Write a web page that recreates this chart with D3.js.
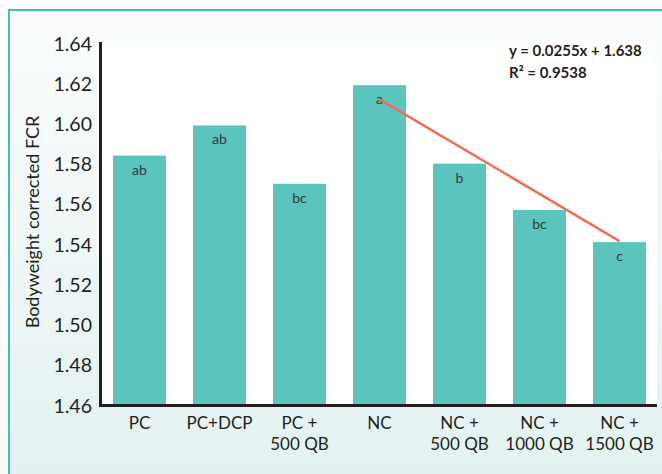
<!DOCTYPE html>
<html>
<head>
<meta charset="utf-8">
<script src="https://cdn.jsdelivr.net/npm/d3@7"></script>
<style>
  body { margin: 0; background: #fff; }
  svg text { font-family: "Gill Sans", "Lato", sans-serif; fill: #231f20; }
</style>
</head>
<body>
<script>
const categories = ["PC", "PC+DCP", "PC +\n500 QB", "NC", "NC +\n500 QB", "NC +\n1000 QB", "NC +\n1500 QB"];
const fcrValues = [1.584, 1.599, 1.570, 1.619, 1.580, 1.557, 1.541];
const letters = ["ab", "ab", "bc", "a", "b", "bc", "c"];
const yTicks = [1.46, 1.48, 1.50, 1.52, 1.54, 1.56, 1.58, 1.60, 1.62, 1.64];
const trendCats = ["NC", "NC +\n1500 QB"];
const trendValues = [1.612, 1.5415];
const equationLines = ["y = 0.0255x + 1.638", "R² = 0.9538"];

function init() {
    var w = 662;
    var h = 474;

    var svg = d3.select("body")
        .append("svg")
        .attr("width", w)
        .attr("height", h);

    var defs = svg.append("defs");
    var grad = defs.append("linearGradient")
        .attr("id", "bg")
        .attr("x1", 0).attr("y1", 0).attr("x2", 0).attr("y2", 1);
    grad.append("stop").attr("offset", "0%").attr("stop-color", "#fbfdfd");
    grad.append("stop").attr("offset", "100%").attr("stop-color", "#e2f1f0");

    // panel background + teal frame (only left/top visible)
    svg.append("rect")
        .attr("x", 9).attr("y", 10)
        .attr("width", w).attr("height", h)
        .attr("fill", "url(#bg)");
    svg.append("path")
        .attr("d", "M9," + h + "V10H" + w)
        .attr("fill", "none")
        .attr("stroke", "#45bdb4")
        .attr("stroke-width", 2);

    var x = d3.scaleBand()
        .domain(categories)
        .range([100, 659])
        .paddingInner(0.3375)
        .paddingOuter(0.1625);

    var y = d3.scaleLinear()
        .domain([1.46, 1.64])
        .range([405, 43]);

    // white plot area
    svg.append("rect")
        .attr("x", 100).attr("y", 41)
        .attr("width", 557).attr("height", 364)
        .attr("fill", "#fff");

    svg.selectAll("rect.bar")
        .data(fcrValues)
        .enter()
        .append("rect")
        .attr("class", "bar")
        .attr("x", function(d, i) { return x(categories[i]); })
        .attr("y", function(d) { return y(d); })
        .attr("width", x.bandwidth())
        .attr("height", function(d) { return y(1.46) - y(d); })
        .attr("fill", "#5bc4bc");

    svg.selectAll("text.letter")
        .data(letters)
        .enter()
        .append("text")
        .attr("class", "letter")
        .attr("x", function(d, i) { return x(categories[i]) + x.bandwidth() / 2; })
        .attr("y", function(d, i) { return y(fcrValues[i]) + 19; })
        .attr("text-anchor", "middle")
        .style("font-size", "14px")
        .style("fill", "#2d3a3a")
        .text(function(d) { return d; });

    // trend line
    var line = d3.line()
        .x(function(d, i) { return x(trendCats[i]) + x.bandwidth() / 2; })
        .y(function(d) { return y(d); });
    svg.append("path")
        .attr("d", line(trendValues))
        .attr("fill", "none")
        .attr("stroke", "#ef6f4f")
        .attr("stroke-width", 2.5);

    // y axis
    var yAxis = d3.axisLeft(y)
        .tickValues(yTicks)
        .tickFormat(d3.format(".2f"))
        .tickSize(0)
        .tickPadding(8);
    var gy = svg.append("g")
        .attr("transform", "translate(100,0)")
        .call(yAxis);
    gy.select(".domain").remove();
    gy.selectAll("text")
        .style("font-size", "19.5px")
        .style("fill", "#231f20")
        .attr("dy", "0.36em");

    // x axis
    var xAxis = d3.axisBottom(x).tickSize(0).tickFormat("");
    var gx = svg.append("g")
        .attr("transform", "translate(0,405)")
        .call(xAxis);
    gx.select(".domain").remove();
    gx.selectAll(".tick").each(function(d) {
        var t = d3.select(this).append("text")
            .attr("text-anchor", "middle")
            .attr("y", 24)
            .style("font-size", "17px");
        d.split("\n").forEach(function(part, k) {
            t.append("tspan")
                .attr("x", 0)
                .attr("dy", k === 0 ? 0 : 21)
                .text(part);
        });
    });

    // axis lines
    svg.append("path")
        .attr("d", "M100.5,42V405.5H657")
        .attr("fill", "none")
        .attr("stroke", "#231f20")
        .attr("stroke-width", 3);

    // y title
    svg.append("text")
        .attr("transform", "translate(39,222) rotate(-90)")
        .attr("text-anchor", "middle")
        .style("font-size", "18px")
        .text("Bodyweight corrected FCR");

    // equation
    svg.selectAll("text.eq")
        .data(equationLines)
        .enter()
        .append("text")
        .attr("class", "eq")
        .attr("x", 509)
        .attr("y", function(d, i) { return 56 + i * 22; })
        .style("font-size", "15px")
        .style("font-weight", "bold")
        .text(function(d) { return d; });
}
window.onload = init;
</script>
</body>
</html>
